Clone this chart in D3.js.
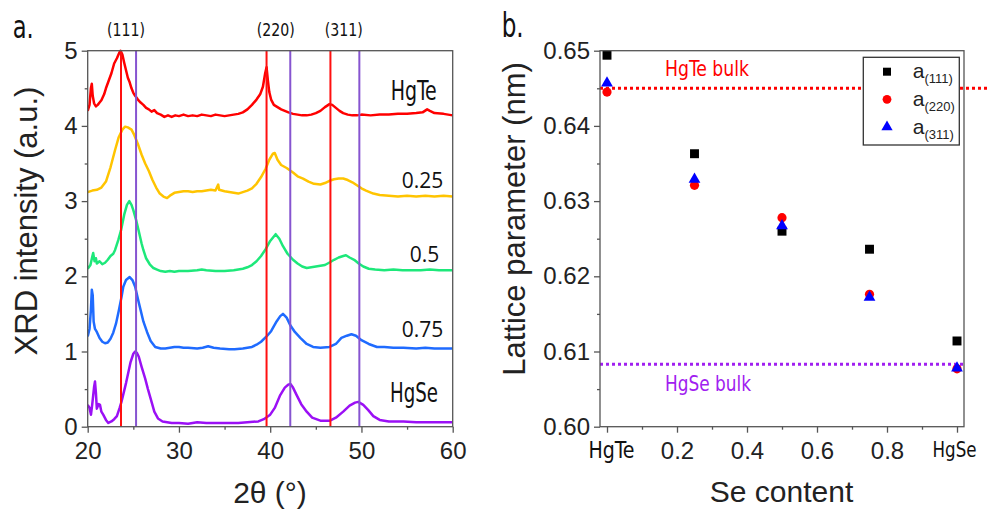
<!DOCTYPE html>
<html><head><meta charset="utf-8">
<script src="https://cdn.jsdelivr.net/npm/d3@7"></script>
<style>body{margin:0;background:#fff}svg{display:block}</style>
</head><body>
<script>
// ---------- DATA ----------
// Panel a: XRD patterns [2theta, intensity (offset, a.u.)]
const xrdHgTe = [[20,4.2],[20.2,4.28],[20.35,4.5],[20.45,4.56],[20.55,4.4],[20.7,4.3],[20.9,4.26],[21.1,4.28],[21.3,4.31],[21.5,4.34],[21.8,4.42],[22,4.5],[22.3,4.6],[22.6,4.7],[22.9,4.83],[23.2,4.9],[23.45,4.97],[23.6,5.0],[23.8,4.95],[24,4.84],[24.2,4.74],[24.4,4.64],[24.6,4.58],[24.8,4.5],[25,4.44],[25.2,4.4],[25.5,4.35],[25.8,4.31],[26.1,4.28],[26.4,4.24],[26.7,4.22],[27,4.19],[27.3,4.21],[27.6,4.17],[28,4.15],[28.4,4.12],[28.8,4.14],[29.2,4.12],[29.6,4.14],[30,4.13],[30.5,4.15],[31,4.13],[31.5,4.14],[32,4.13],[32.5,4.15],[33,4.14],[33.5,4.13],[34,4.15],[34.5,4.14],[35,4.13],[35.5,4.14],[36,4.15],[36.5,4.16],[37,4.18],[37.5,4.22],[38,4.28],[38.5,4.35],[38.9,4.42],[39.2,4.52],[39.45,4.7],[39.6,4.78],[39.75,4.6],[39.9,4.45],[40.1,4.35],[40.4,4.28],[40.8,4.25],[41.2,4.22],[41.6,4.2],[42,4.18],[42.5,4.16],[43,4.15],[43.5,4.14],[44,4.14],[44.5,4.15],[45,4.17],[45.5,4.2],[46,4.25],[46.5,4.29],[46.8,4.28],[47.2,4.24],[47.6,4.2],[48,4.17],[48.5,4.15],[49,4.14],[49.5,4.14],[50,4.15],[51,4.14],[52,4.15],[53,4.15],[54,4.16],[55,4.16],[56,4.17],[56.7,4.18],[57.2,4.22],[57.5,4.2],[58,4.17],[59,4.16],[60,4.14]];
const xrd025 = [[20,3.12],[20.5,3.14],[21,3.15],[21.5,3.18],[22,3.26],[22.5,3.45],[23,3.68],[23.4,3.85],[23.8,3.95],[24.1,3.99],[24.4,3.98],[24.8,3.95],[25.1,3.88],[25.5,3.76],[25.9,3.62],[26.3,3.5],[26.7,3.4],[27.1,3.28],[27.5,3.18],[27.9,3.1],[28.3,3.06],[28.7,3.04],[29.1,3.08],[29.5,3.11],[30,3.12],[30.5,3.13],[31,3.13],[31.5,3.12],[32,3.13],[32.5,3.13],[33,3.14],[33.5,3.15],[34,3.14],[34.3,3.22],[34.4,3.15],[35,3.13],[35.5,3.12],[36,3.11],[36.5,3.1],[37,3.12],[37.5,3.14],[38,3.17],[38.5,3.23],[39,3.32],[39.5,3.43],[39.9,3.55],[40.3,3.63],[40.5,3.64],[40.8,3.55],[41.2,3.48],[41.8,3.44],[42.5,3.38],[43,3.33],[43.6,3.3],[44.2,3.26],[44.8,3.23],[45.5,3.22],[46,3.24],[46.5,3.27],[47,3.29],[47.5,3.3],[48,3.3],[48.5,3.28],[49,3.25],[49.5,3.21],[50,3.17],[50.5,3.14],[51.3,3.1],[52,3.08],[53,3.07],[54,3.06],[55,3.07],[56,3.06],[57,3.07],[58,3.06],[59,3.07],[60,3.06]];
const xrd05 = [[20,2.1],[20.3,2.15],[20.5,2.26],[20.6,2.31],[20.75,2.2],[20.9,2.24],[21,2.17],[21.3,2.2],[21.6,2.16],[21.9,2.18],[22.2,2.22],[22.5,2.27],[22.8,2.3],[23,2.35],[23.35,2.48],[23.65,2.61],[24,2.82],[24.3,2.95],[24.56,3.0],[24.8,2.95],[25,2.88],[25.3,2.75],[25.6,2.6],[25.9,2.44],[26.1,2.35],[26.4,2.24],[26.8,2.16],[27.2,2.11],[27.6,2.09],[28,2.07],[28.5,2.06],[29,2.07],[29.5,2.06],[30,2.07],[31,2.07],[32,2.08],[32.5,2.09],[33,2.08],[34,2.07],[35,2.07],[36,2.08],[36.5,2.09],[37,2.1],[37.5,2.12],[38,2.15],[38.5,2.2],[39,2.27],[39.5,2.36],[40,2.47],[40.6,2.56],[41,2.5],[41.4,2.4],[41.9,2.3],[42.5,2.22],[43,2.17],[43.5,2.13],[44,2.11],[44.5,2.12],[45,2.13],[45.5,2.14],[46,2.15],[46.6,2.19],[47,2.22],[47.5,2.25],[48,2.27],[48.3,2.28],[48.7,2.25],[49.2,2.22],[49.7,2.17],[50.2,2.13],[50.8,2.1],[51.5,2.09],[52.5,2.08],[53.5,2.09],[54.5,2.08],[55.5,2.08],[56.5,2.08],[57.5,2.09],[58.5,2.08],[60,2.08]];
const xrd075 = [[20,1.2],[20.2,1.3],[20.35,1.55],[20.45,1.82],[20.55,1.75],[20.65,1.4],[20.8,1.3],[21,1.26],[21.3,1.18],[21.6,1.13],[21.9,1.11],[22.2,1.12],[22.5,1.17],[22.8,1.25],[23.1,1.37],[23.4,1.54],[23.7,1.72],[23.9,1.86],[24.2,1.95],[24.6,1.99],[24.9,1.95],[25.2,1.86],[25.5,1.7],[25.8,1.55],[26.1,1.4],[26.5,1.26],[26.9,1.14],[27.4,1.06],[28,1.04],[28.5,1.04],[29,1.05],[29.5,1.06],[30,1.06],[30.5,1.05],[31,1.05],[32,1.04],[32.6,1.05],[33.2,1.07],[33.8,1.05],[34.5,1.04],[35.5,1.03],[36.1,1.03],[37,1.04],[38,1.06],[38.5,1.09],[39,1.13],[39.6,1.2],[40.1,1.27],[40.7,1.4],[41.1,1.47],[41.4,1.5],[41.8,1.45],[42.2,1.35],[42.7,1.26],[43.3,1.18],[44,1.1],[44.7,1.06],[45.5,1.05],[46.5,1.06],[47.2,1.1],[47.8,1.18],[48.4,1.21],[48.9,1.23],[49.4,1.21],[50,1.15],[50.8,1.1],[51.7,1.06],[52.5,1.06],[53.5,1.05],[54.6,1.05],[56,1.04],[57,1.05],[58,1.04],[59,1.04],[60,1.04]];
const xrdHgSe = [[20,0.29],[20.2,0.25],[20.36,0.16],[20.5,0.3],[20.7,0.53],[20.8,0.6],[20.9,0.45],[21,0.24],[21.2,0.3],[21.35,0.29],[21.5,0.2],[21.7,0.16],[22,0.09],[22.26,0.05],[22.6,0.07],[22.9,0.1],[23.2,0.14],[23.5,0.25],[23.7,0.33],[24,0.48],[24.2,0.58],[24.45,0.72],[24.7,0.86],[25,0.97],[25.2,1.0],[25.4,0.98],[25.6,0.93],[25.9,0.8],[26.3,0.64],[26.6,0.5],[27,0.33],[27.3,0.2],[27.7,0.11],[28.2,0.07],[28.7,0.06],[29.2,0.05],[30,0.05],[31,0.04],[32,0.06],[33,0.05],[34.3,0.05],[35.5,0.05],[36.5,0.05],[37.5,0.06],[38.7,0.07],[39.3,0.1],[40,0.16],[40.5,0.25],[41.1,0.42],[41.6,0.52],[42,0.56],[42.2,0.57],[42.5,0.52],[42.9,0.42],[43.4,0.3],[44,0.2],[44.6,0.12],[45.5,0.08],[46.55,0.08],[47.2,0.12],[48,0.2],[48.7,0.28],[49.3,0.32],[49.65,0.33],[50.2,0.29],[50.75,0.22],[51.3,0.14],[52,0.09],[53,0.07],[54.6,0.07],[56,0.06],[57,0.06],[58,0.06],[60,0.06]];
const xrdLabels = ["HgTe","0.25","0.5","0.75","HgSe"];
const hgteRefs = [23.65, 39.6, 46.6];   // HgTe bulk reflections (red)
const hgseRefs = [25.3, 42.2, 49.77];   // HgSe bulk reflections (purple)
const planeLabels = ["(111)","(220)","(311)"];
const xrdXTicks = [20,30,40,50,60];
const xrdYTicks = [0,1,2,3,4,5];

// Panel b: lattice parameters (nm)
const seContent = [0, 0.25, 0.5, 0.75, 1];
const a111 = [0.6494, 0.6363, 0.6260, 0.6236, 0.6114];
const a220 = [0.6445, 0.6321, 0.6278, 0.6176, 0.6077];
const a311 = [0.6457, 0.6329, 0.6267, 0.6172, 0.6078];
const bulkHgTe = 0.645;
const bulkHgSe = 0.6083;
const latYTicks = [0.60, 0.61, 0.62, 0.63, 0.64, 0.65];
const latXTicks = [0, 0.2, 0.4, 0.6, 0.8, 1.0];
const latXTickLabels = ["HgTe","0.2","0.4","0.6","0.8","HgSe"];
const legendNames = ["(111)","(220)","(311)"];

// ---------- DRAWING ----------
const W = 987, H = 510;
const svg = d3.select("body").append("svg").attr("width", W).attr("height", H);
svg.append("rect").attr("width", W).attr("height", H).attr("fill", "#fff");
const SANS = "'Liberation Sans', Arial, sans-serif";
const COND = "'Liberation Sans Narrow', 'Arial Narrow', 'DejaVu Sans Condensed', sans-serif";
const FRAME = "#555";
const TXT = "#222";

function condText(g, txt, x, y, size, width, fill) {
  return g.append("text").attr("x", x).attr("y", y).text(txt)
    .attr("font-family", COND).attr("font-size", size).attr("fill", fill || "#111")
    .attr("textLength", width).attr("lengthAdjust", "spacingAndGlyphs");
}

function styleAxis(g) {
  g.select(".domain").remove();
  g.selectAll(".tick line").attr("stroke", FRAME).attr("stroke-width", 1.3);
  g.selectAll(".tick text").attr("fill", TXT).attr("font-family", SANS).attr("font-size", 24);
}

// ===== Panel a =====
const xA = d3.scaleLinear().domain([20, 60]).range([87.7, 452.7]);
const yA = d3.scaleLinear().domain([0, 5]).range([426.7, 50.7]);
const gA = svg.append("g");
svg.append("defs").append("clipPath").attr("id", "clipA").append("rect")
  .attr("x", 87.7).attr("y", 48).attr("width", 365).attr("height", 379);

const series = [xrdHgTe, xrd025, xrd05, xrd075, xrdHgSe];
const colors = ["#ff0000", "#ffc400", "#1de87a", "#1f6bff", "#9b10f5"];
const line = d3.line().x(d => xA(d[0])).y(d => yA(d[1]));
const gCurves = gA.append("g").attr("clip-path", "url(#clipA)");
series.forEach((s, i) => {
  gCurves.append("path").attr("d", line(s)).attr("fill", "none")
    .attr("stroke", colors[i]).attr("stroke-width", 2.5).attr("stroke-linejoin", "round");
});
hgteRefs.forEach(v => gA.append("line").attr("x1", xA(v)).attr("x2", xA(v))
  .attr("y1", yA(5)).attr("y2", yA(0)).attr("stroke", "#ff1010").attr("stroke-width", 2));
hgseRefs.forEach(v => gA.append("line").attr("x1", xA(v)).attr("x2", xA(v))
  .attr("y1", yA(5)).attr("y2", yA(0)).attr("stroke", "#8654d0").attr("stroke-width", 2));

// axes panel a
const axAx = gA.append("g").attr("transform", "translate(0,426.7)")
  .call(d3.axisBottom(xA).tickValues(xrdXTicks).tickSize(6).tickPadding(9).tickFormat(d3.format("d")));
styleAxis(axAx);
const axAxm = gA.append("g").attr("transform", "translate(0,426.7)")
  .call(d3.axisBottom(xA).tickValues([25,35,45,55]).tickSize(3).tickFormat(""));
styleAxis(axAxm);
const axAy = gA.append("g").attr("transform", "translate(87.7,0)")
  .call(d3.axisLeft(yA).tickValues(xrdYTicks).tickSize(6).tickPadding(4).tickFormat(d3.format("d")));
styleAxis(axAy);
const axAym = gA.append("g").attr("transform", "translate(87.7,0)")
  .call(d3.axisLeft(yA).tickValues([0.5,1.5,2.5,3.5,4.5]).tickSize(3).tickFormat(""));
styleAxis(axAym);
gA.append("rect").attr("x", 87.7).attr("y", 50.7).attr("width", 365).attr("height", 376)
  .attr("fill", "none").attr("stroke", FRAME).attr("stroke-width", 1.3);

// plane labels
const planeX = [126, 275.8, 343.8];
planeLabels.forEach((t, i) => condText(gA, t, planeX[i] - 19, 36, 17, 38, "#111"));

// curve labels
condText(gA, xrdLabels[0], 390.7, 99.5, 27, 46);
condText(gA, xrdLabels[4], 390, 402, 27, 48);
[[1, 443.3, 188], [2, 439.3, 261.7], [3, 443.3, 336.7]].forEach(([i, x, y]) =>
  gA.append("text").attr("x", x).attr("y", y).attr("text-anchor", "end")
    .attr("font-family", "'Open Sans', sans-serif").attr("font-size", 21).attr("fill", "#111").text(xrdLabels[i]));

// titles
gA.append("text").attr("transform", "translate(37,221) rotate(-90)").attr("text-anchor", "middle")
  .attr("font-family", SANS).attr("font-size", 31).attr("fill", TXT).text("XRD intensity (a.u.)");
gA.append("text").attr("x", 270).attr("y", 503).attr("text-anchor", "middle")
  .attr("font-family", SANS).attr("font-size", 30).attr("fill", TXT).text("2θ (°)");
condText(gA, "a.", 12.7, 38, 32, 21, "#111");

// ===== Panel b =====
const xB = d3.scaleLinear().domain([-0.02, 1.02]).range([600, 964]);
const yB = d3.scaleLinear().domain([0.60, 0.65]).range([426.7, 50.7]);
const gB = svg.append("g");

// bulk lines
gB.append("line").attr("x1", 600).attr("x2", 987).attr("y1", yB(bulkHgTe)).attr("y2", yB(bulkHgTe))
  .attr("stroke", "#ff0000").attr("stroke-width", 3).attr("stroke-dasharray", "3,3");
gB.append("line").attr("x1", 600).attr("x2", 966).attr("y1", yB(bulkHgSe)).attr("y2", yB(bulkHgSe))
  .attr("stroke", "#a020f0").attr("stroke-width", 3).attr("stroke-dasharray", "3,3");
condText(gB, "HgTe bulk", 665, 75.5, 21, 84, "#ff0000");
condText(gB, "HgSe bulk", 665, 391, 21, 86, "#a020f0");

// markers
const sym = d3.symbol();
gB.selectAll(".sq").data(seContent).join("path")
  .attr("d", sym.type(d3.symbolSquare).size(80)())
  .attr("transform", (d, i) => `translate(${xB(d)},${yB(a111[i])})`).attr("fill", "#000");
gB.selectAll(".ci").data(seContent).join("circle")
  .attr("cx", d => xB(d)).attr("cy", (d, i) => yB(a220[i])).attr("r", 4.6).attr("fill", "#ff0000");
gB.selectAll(".tr").data(seContent).join("path")
  .attr("d", d3.symbol().type(d3.symbolTriangle).size(60)())
  .attr("transform", (d, i) => `translate(${xB(d)},${yB(a311[i])})`).attr("fill", "#0000ff");

// axes panel b
const axBx = gB.append("g").attr("transform", "translate(0,426.7)")
  .call(d3.axisBottom(xB).tickValues(latXTicks).tickSize(6).tickPadding(9)
    .tickFormat((d, i) => latXTickLabels[i]));
styleAxis(axBx);
axBx.selectAll(".tick text").each(function(d, i) {
  if (i === 0) {
    d3.select(this).attr("font-family", COND).attr("font-size", 23).attr("fill", "#111")
      .attr("textLength", 46).attr("lengthAdjust", "spacingAndGlyphs").attr("dx", 4);
  } else if (i === latXTicks.length - 1) {
    d3.select(this).attr("font-family", COND).attr("font-size", 22).attr("fill", "#111")
      .attr("text-anchor", "end").attr("textLength", 44).attr("lengthAdjust", "spacingAndGlyphs")
      .attr("dx", 19);
  }
});
const axBxm = gB.append("g").attr("transform", "translate(0,426.7)")
  .call(d3.axisBottom(xB).tickValues([0.1,0.3,0.5,0.7,0.9]).tickSize(3).tickFormat(""));
styleAxis(axBxm);
const axBy = gB.append("g").attr("transform", "translate(600,0)")
  .call(d3.axisLeft(yB).tickValues(latYTicks).tickSize(6).tickPadding(4).tickFormat(d3.format(".2f")));
styleAxis(axBy);
const axBym = gB.append("g").attr("transform", "translate(600,0)")
  .call(d3.axisLeft(yB).tickValues([0.605,0.615,0.625,0.635,0.645]).tickSize(3).tickFormat(""));
styleAxis(axBym);
gB.append("rect").attr("x", 600).attr("y", 50.7).attr("width", 364).attr("height", 376)
  .attr("fill", "none").attr("stroke", FRAME).attr("stroke-width", 1.3);

// legend
const lg = gB.append("g");
lg.append("rect").attr("x", 863.3).attr("y", 57.3).attr("width", 96).attr("height", 87.7)
  .attr("fill", "#fff").attr("stroke", "#333").attr("stroke-width", 1.3);
const legY = [71.7, 99.3, 127];
lg.append("path").attr("d", d3.symbol().type(d3.symbolSquare).size(64)())
  .attr("transform", `translate(887,${legY[0]})`).attr("fill", "#000");
lg.append("circle").attr("cx", 887).attr("cy", legY[1]).attr("r", 4.4).attr("fill", "#ff0000");
lg.append("path").attr("d", d3.symbol().type(d3.symbolTriangle).size(55)())
  .attr("transform", `translate(887,${legY[2]})`).attr("fill", "#0000ff");
legendNames.forEach((n, i) => {
  const t = lg.append("text").attr("x", 912.7).attr("y", legY[i] + 6.6)
    .attr("font-family", SANS).attr("font-size", 21).attr("fill", TXT);
  t.append("tspan").text("a");
  t.append("tspan").attr("dy", 5).attr("font-size", 13).text(n);
});

// titles
gB.append("text").attr("transform", "translate(525,219) rotate(-90)").attr("text-anchor", "middle")
  .attr("font-family", SANS).attr("font-size", 31).attr("fill", TXT).text("Lattice parameter (nm)");
gB.append("text").attr("x", 781.5).attr("y", 502).attr("text-anchor", "middle")
  .attr("font-family", SANS).attr("font-size", 30).attr("fill", TXT).text("Se content");
condText(gB, "b.", 501.7, 37, 33, 22, "#111");
</script>
</body></html>
